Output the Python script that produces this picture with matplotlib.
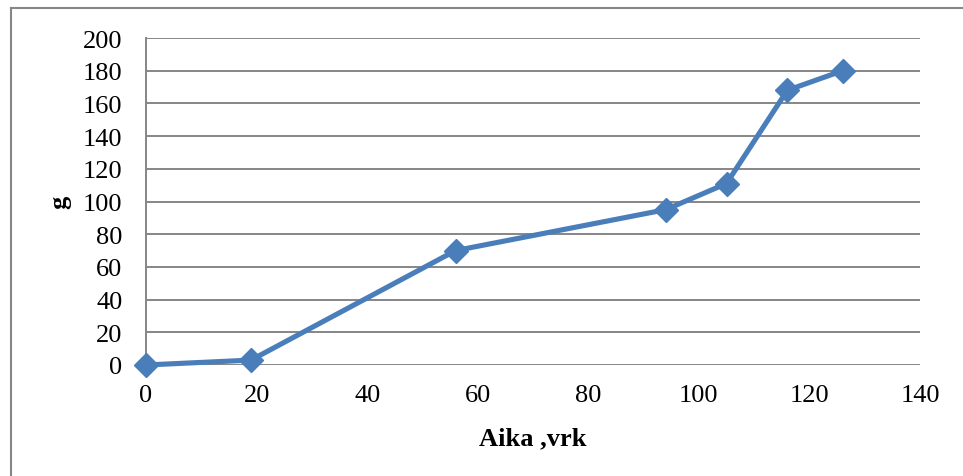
import matplotlib.pyplot as plt
from matplotlib.lines import Line2D

# kasvu ajan funktiona
aika = [0, 19, 56, 94, 105, 116, 126]
paino = [0, 3, 70, 95, 111, 168, 180]

plt.rcParams['font.family'] = ['Liberation Serif', 'DejaVu Serif']

fig = plt.figure(figsize=(9.63, 4.77), dpi=100)
ax = fig.add_axes([146 / 963, 1 - 366 / 477, (920 - 146) / 963, (366 - 39) / 477])

ax.plot(aika, paino, color='#4A7EBB', lw=3.7, marker='D', markersize=12,
        markeredgecolor='#4A7EBB', markerfacecolor='#4A7EBB', clip_on=False, zorder=3)

ax.set_xlim(0, 140)
ax.set_ylim(0, 200)
ax.set_xticks(range(0, 141, 20))
ax.set_yticks(range(0, 201, 20))
ax.grid(axis='y', color='#868686', lw=1.4)
ax.set_axisbelow(True)

for side in ['top', 'right', 'bottom']:
    ax.spines[side].set_visible(False)
ax.spines['left'].set_color('#868686')
ax.spines['left'].set_linewidth(1.4)

ax.tick_params(axis='both', length=0, labelsize=19)
ax.tick_params(axis='y', pad=17)
ax.tick_params(axis='x', pad=14)

ax.set_xlabel('Aika ,vrk', fontsize=19, fontweight='bold', labelpad=14)
ax.set_ylabel('g', fontsize=19, fontweight='bold', labelpad=8)

# kaavion reunus
fig.add_artist(Line2D([11 / 963, 11 / 963], [0, 1 - 9 / 477], color='#878787', lw=1.5))
fig.add_artist(Line2D([11 / 963, 1], [1 - 9 / 477, 1 - 9 / 477], color='#878787', lw=1.5))

fig.savefig('out.png', dpi=100)
